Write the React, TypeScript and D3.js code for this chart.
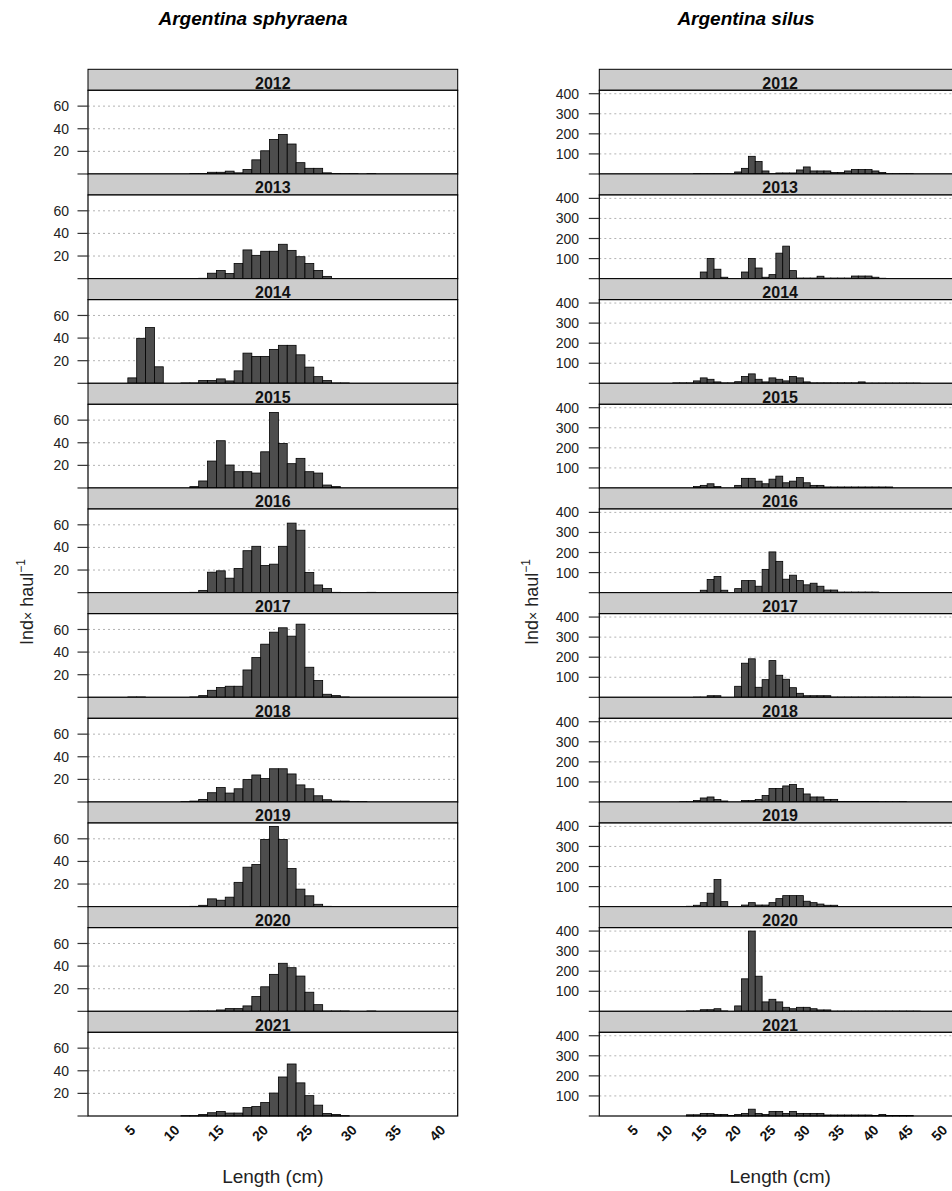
import React from "react";
import * as d3 from "d3";

// ---------- data ----------
const years = [2012, 2013, 2014, 2015, 2016, 2017, 2018, 2019, 2020, 2021];

// Argentina sphyraena: length classes (cm)
const sphLengths = [5, 6, 7, 8, 9, 10, 11, 12, 13, 14, 15, 16, 17, 18, 19, 20, 21, 22, 23, 24, 25, 26, 27, 28, 29, 30, 31, 32];
const sph2012 = [0, 0, 0, 0, 0, 0, 0, 0.3, 0.3, 1.5, 1.5, 2.5, 1, 4, 12.5, 20.5, 30.5, 35, 26.5, 10, 5, 5, 1, 0.3, 0.2, 0.2, 0, 0.2];
const sph2013 = [0, 0, 0, 0, 0, 0, 0, 0, 0.3, 4.8, 7.2, 4.5, 13.4, 25.4, 20.6, 24.2, 24.2, 30.4, 25, 19.4, 13.4, 7.2, 2, 0, 0, 0, 0, 0];
const sph2014 = [4.8, 39.8, 49.3, 14.6, 0, 0, 0.3, 0.3, 2.4, 2.4, 3.9, 2.1, 11, 26.7, 23.8, 23.8, 30, 33.6, 33.6, 25.2, 14.3, 5.9, 2.4, 0.3, 0.3, 0, 0, 0];
const sph2015 = [0, 0, 0, 0, 0, 0, 0, 1.2, 6.2, 23.8, 41.8, 20.3, 14.4, 14.4, 13.2, 32, 66.8, 39.4, 21.5, 26.2, 14.4, 13.2, 2.6, 1.2, 0, 0, 0, 0];
const sph2016 = [0, 0, 0, 0, 0, 0, 0, 0.3, 2, 18.1, 19.3, 12.8, 21.4, 37.1, 41, 24, 25.2, 41, 61.5, 55.2, 17.8, 6.8, 3.6, 0.3, 0, 0, 0, 0.3];
const sph2017 = [0.3, 0.3, 0, 0, 0, 0, 0, 0.3, 1.5, 6.2, 8.6, 9.8, 9.8, 24.2, 35.2, 47, 57.6, 61.5, 54.1, 64.7, 26.6, 14.8, 2.7, 1.5, 0.3, 0, 0, 0];
const sph2018 = [0, 0, 0, 0, 0, 0, 0.2, 0.8, 2.3, 8.2, 12.8, 7.9, 11.7, 19.8, 23.9, 20.7, 29.4, 29.4, 24.8, 15.1, 11.7, 5.5, 2, 0.8, 0.8, 0.2, 0.2, 0];
const sph2019 = [0, 0, 0, 0, 0, 0, 0, 0.3, 1.2, 6.9, 5.7, 8.4, 21.5, 34.9, 37.3, 59.4, 71, 59.4, 33.7, 15.5, 9.6, 2.1, 0.3, 0, 0, 0, 0, 0];
const sph2020 = [0, 0, 0, 0, 0, 0, 0, 0.3, 0.3, 0.3, 1.2, 2.4, 2.4, 4.8, 13.1, 21.7, 32.7, 42.5, 38.6, 31.2, 16.9, 5.9, 0.3, 0.3, 0.3, 0, 0, 0.3];
const sph2021 = [0, 0, 0, 0, 0, 0, 0.3, 0.3, 1.4, 2.9, 4, 2.6, 2.6, 7.5, 8.4, 11.9, 20.3, 34.5, 46, 29.3, 18, 9.6, 2.3, 1.4, 0.3, 0, 0, 0];

// Argentina silus: length classes (cm)
const silLengths = [10, 11, 12, 13, 14, 15, 16, 17, 18, 19, 20, 21, 22, 23, 24, 25, 26, 27, 28, 29, 30, 31, 32, 33, 34, 35, 36, 37, 38, 39, 40, 41, 42, 43, 44, 45, 46];
const sil2012 = [0, 0, 0, 0, 1, 1, 1, 1, 1, 1, 10, 28, 88, 62, 15, 1, 5, 5, 5, 20, 35, 15, 15, 15, 7, 7, 15, 22, 22, 22, 15, 7, 1, 1, 1, 1, 0];
const sil2013 = [0, 0, 0, 0, 0, 33, 100, 47, 7, 0, 0, 33, 100, 53, 7, 20, 127, 162, 40, 3, 3, 3, 12, 3, 3, 3, 3, 13, 13, 13, 7, 2, 0, 0, 0, 0, 0];
const sil2014 = [0, 2, 2, 2, 12, 27, 20, 7, 2, 2, 8, 34, 47, 20, 7, 27, 20, 12, 34, 27, 7, 2, 2, 2, 2, 2, 2, 2, 7, 1, 1, 1, 1, 1, 1, 1, 1];
const sil2015 = [0, 0, 0, 0, 7, 13, 21, 7, 0, 0, 13, 48, 48, 34, 21, 44, 59, 26, 34, 52, 26, 13, 13, 5, 5, 5, 5, 5, 5, 5, 5, 5, 5, 0, 0, 0, 0];
const sil2016 = [1, 1, 1, 1, 1, 12, 66, 81, 12, 0, 20, 60, 60, 32, 116, 203, 156, 67, 87, 60, 39, 47, 32, 13, 13, 3, 3, 3, 3, 3, 3, 1, 1, 1, 1, 0, 0];
const sil2017 = [0, 0, 0, 0, 1, 1, 8, 8, 0, 0, 55, 170, 192, 50, 88, 183, 110, 90, 48, 20, 8, 8, 8, 8, 1, 1, 1, 1, 1, 1, 1, 1, 1, 1, 1, 1, 1];
const sil2018 = [0, 0, 1, 1, 7, 20, 25, 12, 5, 0, 0, 7, 7, 12, 32, 67, 67, 80, 87, 67, 40, 25, 25, 13, 13, 3, 3, 3, 3, 3, 3, 1, 1, 1, 1, 0, 0];
const sil2019 = [0, 0, 0, 2, 7, 20, 67, 135, 25, 0, 0, 8, 20, 8, 8, 20, 40, 55, 55, 55, 27, 20, 13, 7, 7, 1, 1, 1, 1, 1, 0, 0, 0, 0, 0, 0, 0];
const sil2020 = [0, 0, 0, 2, 2, 8, 8, 13, 2, 0, 27, 162, 400, 175, 47, 60, 47, 20, 13, 20, 20, 13, 7, 7, 1, 1, 1, 1, 1, 1, 1, 1, 1, 1, 1, 1, 1];
const sil2021 = [0, 0, 0, 6, 6, 13, 13, 8, 8, 2, 8, 13, 34, 13, 8, 23, 23, 13, 23, 13, 13, 13, 13, 5, 5, 5, 5, 5, 5, 5, 2, 8, 2, 2, 2, 2, 0];

const sphSeries = [sph2012, sph2013, sph2014, sph2015, sph2016, sph2017, sph2018, sph2019, sph2020, sph2021];
const silSeries = [sil2012, sil2013, sil2014, sil2015, sil2016, sil2017, sil2018, sil2019, sil2020, sil2021];

const sphYTicks = [20, 40, 60];
const silYTicks = [100, 200, 300, 400];
const sphXTicks = [5, 10, 15, 20, 25, 30, 35, 40];
const silXTicks = [5, 10, 15, 20, 25, 30, 35, 40, 45, 50];

// ---------- layout ----------
const W = 952;
const H = 1191;
const FONT = "Arial, 'Liberation Sans', Helvetica, sans-serif";
const facetTop0 = 69.3;
const facetPitch = 104.67;
const stripH = 21;

type PanelCfg = {
  title: string;
  titleX: number;
  lengths: number[];
  series: number[][];
  xDomain: [number, number];
  xRange: [number, number];
  yMax: number;
  yTicks: number[];
  xTicks: number[];
  tickLabelX: number;
  yLabelX: number;
  xTickShift: number;
};

const panels: PanelCfg[] = [
  {
    title: "Argentina sphyraena",
    titleX: 253,
    lengths: sphLengths,
    series: sphSeries,
    xDomain: [0, 41.75],
    xRange: [88, 457.7],
    yMax: 74,
    yTicks: sphYTicks,
    xTicks: sphXTicks,
    tickLabelX: 69,
    yLabelX: 33,
    xTickShift: 4,
  },
  {
    title: "Argentina silus",
    titleX: 746,
    lengths: silLengths,
    series: silSeries,
    xDomain: [-0.2, 52.45],
    xRange: [599.3, 961],
    yMax: 417,
    yTicks: silYTicks,
    xTicks: silXTicks,
    tickLabelX: 579,
    yLabelX: 538,
    xTickShift: 4,
  },
];

function Panel({ cfg }: { cfg: PanelCfg }) {
  const sx = d3.scaleLinear().domain(cfg.xDomain).range(cfg.xRange);
  const [x0, x1] = cfg.xRange;
  const cx = (x0 + x1) / 2;
  const lastBottom = facetTop0 + years.length * facetPitch;
  return (
    <g>
      <text
        x={cfg.titleX}
        y={25}
        textAnchor="middle"
        fontFamily={FONT}
        fontWeight="bold"
        fontStyle="italic"
        fontSize={19}
        fill="#000"
      >
        {cfg.title}
      </text>
      {years.map((yr, i) => {
        const top = facetTop0 + i * facetPitch;
        const pTop = top + stripH;
        const pBot = top + facetPitch;
        const sy = d3.scaleLinear().domain([0, cfg.yMax]).range([pBot, pTop]);
        const vals = cfg.series[i];
        return (
          <g key={yr}>
            <rect x={x0} y={top} width={x1 - x0} height={stripH} fill="#cccccc" stroke="#000" strokeWidth={1} />
            <text
              x={cx}
              y={top + 19.3}
              textAnchor="middle"
              fontFamily={FONT}
              fontWeight="bold"
              fontSize={16}
              fill="#111"
            >
              {yr}
            </text>
            <rect x={x0} y={pTop} width={x1 - x0} height={pBot - pTop} fill="#fff" />
            {cfg.yTicks.map((t) => (
              <line
                key={"g" + t}
                x1={x0}
                x2={x1}
                y1={sy(t)}
                y2={sy(t)}
                stroke="#a0a0a0"
                strokeWidth={0.8}
                strokeDasharray="2,3"
              />
            ))}
            {cfg.lengths.map((L, j) => {
              const v = vals[j];
              if (!v) return null;
              const xl = sx(L - 0.5);
              const xr = sx(L + 0.5);
              return (
                <rect
                  key={L}
                  x={xl}
                  y={sy(v)}
                  width={xr - xl}
                  height={pBot - sy(v)}
                  fill="#4d4d4d"
                  stroke="#000"
                  strokeWidth={0.8}
                />
              );
            })}
            <rect x={x0} y={pTop} width={x1 - x0} height={pBot - pTop} fill="none" stroke="#000" strokeWidth={1.2} />
            {[0, ...cfg.yTicks].map((t) => (
              <line key={"t" + t} x1={x0 - 10.5} x2={x0} y1={sy(t)} y2={sy(t)} stroke="#333" strokeWidth={1.2} />
            ))}
            {cfg.yTicks.map((t) => (
              <text
                key={"l" + t}
                x={cfg.tickLabelX}
                y={sy(t)}
                dy="0.36em"
                textAnchor="end"
                fontFamily={FONT}
                fontSize={14}
                fill="#222"
              >
                {t}
              </text>
            ))}
          </g>
        );
      })}
      {cfg.xTicks.map((t) => (
        <text
          key={"x" + t}
          transform={`translate(${sx(t) + cfg.xTickShift},${lastBottom + 15}) rotate(-45)`}
          textAnchor="end"
          fontFamily={FONT}
          fontWeight="bold"
          fontSize={14}
          fill="#111"
        >
          {t}
        </text>
      ))}
      <text
        x={cx}
        y={1183}
        textAnchor="middle"
        fontFamily={FONT}
        fontSize={19}
        fill="#222"
      >
        Length (cm)
      </text>
      <text
        transform={`translate(${cfg.yLabelX},602) rotate(-90)`}
        textAnchor="middle"
        fontFamily={FONT}
        fontSize={18}
        fill="#222"
      >
        Ind
        <tspan fontSize={14}>×</tspan>
        <tspan> haul</tspan>
        <tspan fontSize={12} dy={-8}>−1</tspan>
      </text>
    </g>
  );
}

export default function App() {
  return (
    <svg
      width={W}
      height={H}
      viewBox={`0 0 ${W} ${H}`}
      style={{ position: "absolute", left: 0, top: 0, background: "#fff" }}
    >
      <rect x={0} y={0} width={W} height={H} fill="#fff" />
      {panels.map((p) => (
        <Panel key={p.title} cfg={p} />
      ))}
    </svg>
  );
}
